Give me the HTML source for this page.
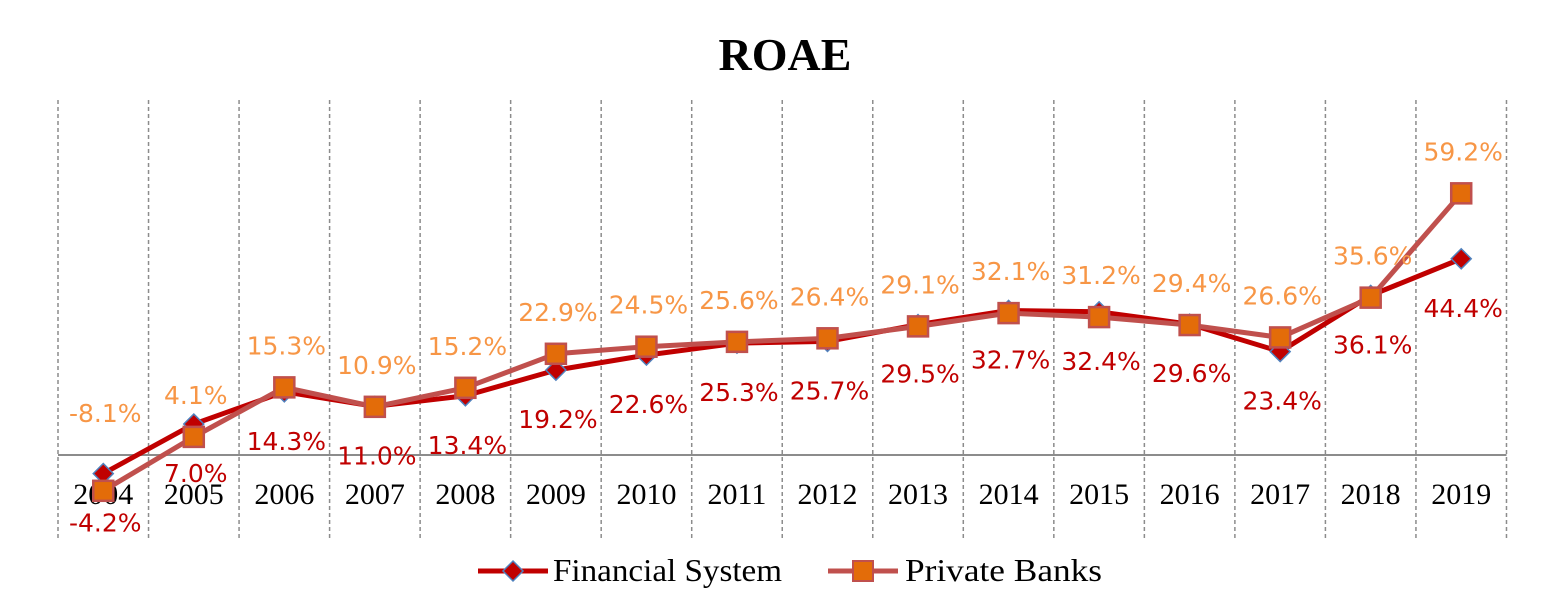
<!DOCTYPE html>
<html><head><meta charset="utf-8"><style>
html,body{margin:0;padding:0;background:#fff;}
svg{display:block;}
</style></head><body>
<svg id="chart" width="1565" height="614" xmlns="http://www.w3.org/2000/svg">
<rect width="1565" height="614" fill="#fff"/>
<text x="785" y="70" text-anchor="middle" font-family="Liberation Serif, serif" font-weight="bold" font-size="46">ROAE</text>
<g id="grid"></g>
<g id="axis"></g>
<g id="series"></g>
<g id="labels"></g>
<g>
<g>
<line x1="478" y1="571" x2="548" y2="571" stroke="#c00000" stroke-width="5"/>
<polygon points="513,561 523,571 513,581 503,571" fill="#c00000" stroke="#4f81bd" stroke-width="1.5"/>
<text x="553" y="581" font-family="Liberation Serif, serif" font-size="32" textLength="229" lengthAdjust="spacingAndGlyphs">Financial System</text>
</g>
<g>
<line x1="828" y1="571" x2="898" y2="571" stroke="#c0504d" stroke-width="5"/>
<rect x="853" y="561" width="20" height="20" fill="#e36c09" stroke="#c0504d" stroke-width="2"/>
<text x="905" y="581" font-family="Liberation Serif, serif" font-size="32" textLength="197" lengthAdjust="spacingAndGlyphs">Private Banks</text>
</g>
</g>
</svg>
<script>
const years = ["2004","2005","2006","2007","2008","2009","2010","2011","2012","2013","2014","2015","2016","2017","2018","2019"];
const financialSystem = [-4.2,7.0,14.3,11.0,13.4,19.2,22.6,25.3,25.7,29.5,32.7,32.4,29.6,23.4,36.1,44.4];
const privateBanks = [-8.1,4.1,15.3,10.9,15.2,22.9,24.5,25.6,26.4,29.1,32.1,31.2,29.4,26.6,35.6,59.2];

const NS="http://www.w3.org/2000/svg";
const left=58, step=90.53, zeroY=455, scale=4.42;
const xPos=i=>left+step*(i+0.5);
const yPos=v=>zeroY-v*scale;
function mk(tag,attrs,parent){const e=document.createElementNS(NS,tag);for(const k in attrs)e.setAttribute(k,attrs[k]);parent.appendChild(e);return e;}
const grid=document.getElementById('grid'), axis=document.getElementById('axis'), ser=document.getElementById('series'), lab=document.getElementById('labels');
for(let i=0;i<=years.length;i++){
  const x=left+step*i;
  const l=mk('line',{x1:x,y1:100,x2:x,y2:540,stroke:'#8c8c8c','stroke-width':1.5,'stroke-dasharray':'4,3'},grid);
  
  
}
const zl=mk('line',{x1:left,y1:zeroY,x2:left+step*years.length,y2:zeroY,stroke:'#8c8c8c','stroke-width':2},axis);


years.forEach((y,i)=>{
  const t=mk('text',{x:xPos(i),y:504,'text-anchor':'middle','font-family':'Liberation Serif, serif','font-size':30},axis);
  t.textContent=y;
  
  
});
function poly(vals,color){
  return mk('polyline',{points:vals.map((v,i)=>xPos(i)+','+yPos(v)).join(' '),fill:'none',stroke:color,'stroke-width':5,'stroke-linejoin':'round'},ser);
}
const pFS=poly(financialSystem,'#c00000');


const pPB=poly(privateBanks,'#c0504d');


financialSystem.forEach((v,i)=>{
  const x=xPos(i),y=yPos(v);
  const m=mk('polygon',{points:`${x},${y-10} ${x+10},${y} ${x},${y+10} ${x-10},${y}`,fill:'#c00000',stroke:'#4f81bd','stroke-width':1.5},ser);
  
  
});
privateBanks.forEach((v,i)=>{
  const x=xPos(i),y=yPos(v);
  const m=mk('rect',{x:x-10,y:y-10,width:20,height:20,fill:'#e36c09',stroke:'#c0504d','stroke-width':2.5},ser);
  
  
});
financialSystem.forEach((v,i)=>{
  const t=mk('text',{x:xPos(i)+2,y:yPos(v)+49+9,'text-anchor':'middle','font-family':'DejaVu Sans, sans-serif','font-size':25,fill:'#c00000'},lab);
  t.textContent=v.toFixed(1)+'%';
  
  
});
privateBanks.forEach((v,i)=>{
  const base = v<0 ? yPos(0) : yPos(v);
  const t=mk('text',{x:xPos(i)+2,y:base-42+9,'text-anchor':'middle','font-family':'DejaVu Sans, sans-serif','font-size':25,fill:'#f79646'},lab);
  t.textContent=v.toFixed(1)+'%';
  
  
});
</script>
</body></html>
